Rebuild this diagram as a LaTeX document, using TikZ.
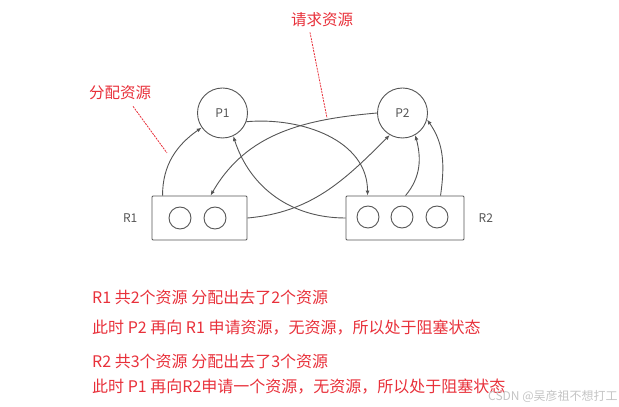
\documentclass[tikz,border=0pt]{standalone}
\usepackage{fontspec}
\setmainfont{Noto Sans CJK SC}
\usetikzlibrary{arrows.meta,positioning}
\definecolor{DLGray}{HTML}{555555}
\definecolor{DLRed}{HTML}{E8303A}
\definecolor{DLMark}{HTML}{C4C4C4}

\begin{document}
\begin{tikzpicture}[x=1pt,y=1pt,
  proc/.style={circle,draw=DLGray,line width=0.9pt,minimum size=50pt,inner sep=0pt,font=\fontsize{12}{14}\selectfont,text=DLGray},
  pool/.style={draw=DLGray,line width=0.9pt,rounded corners=1pt,minimum height=44pt,inner sep=0pt},
  unit/.style={circle,draw=DLGray,line width=0.9pt,minimum size=22pt,inner sep=0pt},
  tag/.style={inner sep=0pt,font=\fontsize{12}{14}\selectfont,text=DLGray},
  arr/.style={-{Latex[length=5pt,width=4pt]},draw=DLGray,line width=0.9pt},
  note/.style={draw=DLRed,line width=0.8pt,dash pattern=on 2pt off 1pt},
  notetext/.style={inner sep=1pt,font=\fontsize{15.5}{17}\selectfont,text=DLRed},
  info/.style={anchor=west,inner sep=0pt,font=\fontsize{16}{18}\selectfont,text=DLRed}
]
\useasboundingbox (0,0) rectangle (619,407);
% processes
\node[proc] (p1) at (222.5,294) {P1};
\node[proc] (p2) at (402.5,294) {P2};
% resources
\node[pool,minimum width=95pt] (r1box) at (199.5,189) {};
\node[pool,minimum width=118pt] (r2box) at (405,189) {};
\node[unit] (r1a) at (180,189) {};
\node[unit] (r1b) at (215,189) {};
\node[unit] (r2a) at (368,190) {};
\node[unit] (r2b) at (402,190) {};
\node[unit] (r2c) at (437,190) {};
\node[tag,left=14pt of r1box] (r1) {R1};
\node[tag,right=14pt of r2box] (r2) {R2};
% edges
\draw[arr] ([xshift=11pt]r1box.north west) to[out=90,in=215] (p1.215);
\draw[arr] (p1.-20) to[out=5,in=90] ([xshift=22pt]r2box.north west);
\draw[arr] (r1box.east) to[out=5,in=225] (p2.240);
\draw[arr] (p2.180) to[out=185,in=60] ([xshift=59pt]r1box.north west);
\draw[arr] (r2box.west) to[out=180,in=-72] (p1.-65);
\draw[arr] ([xshift=60pt]r2box.north west) to[out=50,in=-75] (p2.-60);
\draw[arr] ([xshift=95pt]r2box.north west) to[out=82,in=-55] (p2.-15);
% annotations
\node[notetext] (alloc) at (120,314) {分配资源};
\node[notetext] (req) at (322,387) {请求资源};
\coordinate (allocend) at (167,254);
\coordinate (reqend) at (327,289);
\draw[note] ([xshift=13pt,yshift=-5pt]alloc.south) -- (allocend);
\draw[note] ([xshift=-12pt,yshift=-4pt]req.south) -- (reqend);
% explanation
\node[info] (l1) at (92,109.5) {R1 共2个资源 分配出去了2个资源};
\node[info] (l2) at (92,79.5) {此时 P2 再向 R1 申请资源，无资源，所以处于阻塞状态};
\node[info] (l3) at (92,45.3) {R2 共3个资源 分配出去了3个资源};
\node[info] (l4) at (92,20) {此时 P1 再向R2申请一个资源，无资源，所以处于阻塞状态};
\node[anchor=west,inner sep=0pt,font=\fontsize{12}{14}\selectfont,text=DLMark] (mark) at (488,11) {CSDN @吴彦祖不想打工};
\end{tikzpicture}
\end{document}
